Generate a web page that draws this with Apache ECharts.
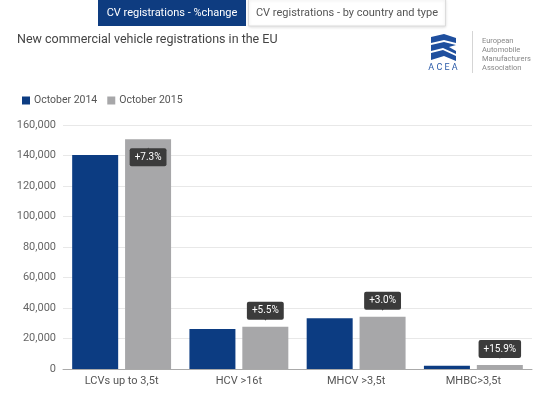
<!DOCTYPE html>
<html>
<head>
<meta charset="utf-8">
<script src="https://cdn.jsdelivr.net/npm/echarts@6/dist/echarts.min.js"></script>
<style>
  html, body { margin: 0; padding: 0; background: #fff; }
  #chart { width: 550px; height: 398px; }
</style>
</head>
<body>
<div id="chart"></div>
<script>
const categories = ['LCVs up to 3,5t', 'HCV >16t', 'MHCV >3,5t', 'MHBC>3,5t'];
const oct2014 = [140300, 26300, 33300, 2200];
const oct2015 = [150600, 27700, 34300, 2550];
const changeLabels = ['+7.3%', '+5.5%', '+3.0%', '+15.9%'];
const yTicks = [0, 20000, 40000, 60000, 80000, 100000, 120000, 140000, 160000];

const blue = '#0c3c82';
const grey = '#a7a7a9';
const tip = '#3b3b3b';

const chart = echarts.init(document.getElementById('chart'));

// the first change label sits inside the tall bar, the rest above
const greyData = oct2015.map((v, i) => {
    const inside = i === 0;
    return {
        value: v,
        label: {
            show: true,
            position: inside ? 'insideTop' : 'top',
            distance: inside ? 8 : 6,
            formatter: inside ? '{a|▲}\n{b|' + changeLabels[i] + '}' : '{b|' + changeLabels[i] + '}\n{a|▼}',
            rich: {
                b: {
                    backgroundColor: tip, color: '#fff', fontSize: 10, fontFamily: 'Roboto',
                    padding: [4, 5, 4, 5], borderRadius: 2, lineHeight: 10
                },
                a: { color: tip, fontSize: 7, lineHeight: 5, fontFamily: 'DejaVu Sans' }
            }
        }
    };
});

const option = {
    animation: false,
    textStyle: { fontFamily: 'Roboto' },
    legend: {
        left: 17, top: 90,
        icon: 'rect', itemWidth: 8, itemHeight: 8, itemGap: 10,
        textStyle: { fontSize: 10.5, color: '#555', padding: [0, 0, 0, -1] },
        data: ['October 2014', 'October 2015']
    },
    grid: { left: 63, right: 18, top: 125, bottom: 29 },
    xAxis: {
        type: 'category',
        data: categories,
        axisLine: { lineStyle: { color: '#aaa' } },
        axisTick: { show: false },
        axisLabel: { color: '#555', fontSize: 11, margin: 7 }
    },
    yAxis: {
        type: 'value',
        min: yTicks[0], max: yTicks[yTicks.length - 1], interval: yTicks[1] - yTicks[0],
        axisLine: { show: false },
        axisTick: { show: false },
        axisLabel: {
            color: '#666', fontSize: 11, margin: 7,
            formatter: v => v.toLocaleString('en-US')
        },
        splitLine: { lineStyle: { color: '#e8e8e8' } }
    },
    series: [
        { name: 'October 2014', type: 'bar', data: oct2014, barWidth: 46, barGap: '15%', itemStyle: { color: blue } },
        { name: 'October 2015', type: 'bar', data: greyData, barWidth: 46, itemStyle: { color: grey } }
    ],
    graphic: [
        // tabs
        { type: 'rect', shape: { x: 98, y: 0, width: 148, height: 26 }, style: { fill: '#0e3c80' } },
        { type: 'text', x: 172, y: 13, style: { text: 'CV registrations - %change', fill: '#fff', fontSize: 11, fontFamily: 'Roboto', align: 'center', verticalAlign: 'middle' } },
        { type: 'rect', shape: { x: 248.5, y: -1, width: 197, height: 27 }, style: { fill: '#fff', stroke: '#dcdcdc', lineWidth: 1, shadowBlur: 3, shadowColor: 'rgba(0,0,0,0.12)', shadowOffsetY: 1 } },
        { type: 'text', x: 347, y: 13, style: { text: 'CV registrations - by country and type', fill: '#555', fontSize: 11, fontFamily: 'Roboto', align: 'center', verticalAlign: 'middle' } },
        // title
        { type: 'text', left: 17, top: 33, style: { text: 'New commercial vehicle registrations in the EU', fill: '#444', fontSize: 12.5, fontFamily: 'Roboto' } },
        // logo
        { type: 'polygon', shape: { points: [[431, 37], [444, 34], [456, 38], [456, 43], [444, 40], [431, 43]] }, style: { fill: '#1f4f9e' } },
        { type: 'polygon', shape: { points: [[431, 45], [444, 42], [456, 45], [449, 47], [456, 51], [456, 54], [443, 48], [431, 51]] }, style: { fill: '#1f4f9e' } },
        { type: 'polygon', shape: { points: [[431, 53], [443, 50], [456, 56], [456, 61], [444, 56], [431, 60]] }, style: { fill: '#1f4f9e' } },
        { type: 'text', x: 443, y: 68, style: { text: 'A C E A', fill: '#2a5aa8', fontSize: 9, fontFamily: 'Roboto', align: 'center', verticalAlign: 'middle' } },
        { type: 'line', shape: { x1: 472.5, y1: 31, x2: 472.5, y2: 73 }, style: { stroke: '#d5d5d5', lineWidth: 1 } },
        { type: 'text', x: 482, y: 36, style: { text: 'European\nAutomobile\nManufacturers\nAssociation', fill: '#888', fontSize: 7.5, lineHeight: 9.3, fontFamily: 'Roboto' } }
    ]
};

chart.setOption(option);
window.addEventListener('resize', function () {
    chart.resize();
});
</script>
</body>
</html>
